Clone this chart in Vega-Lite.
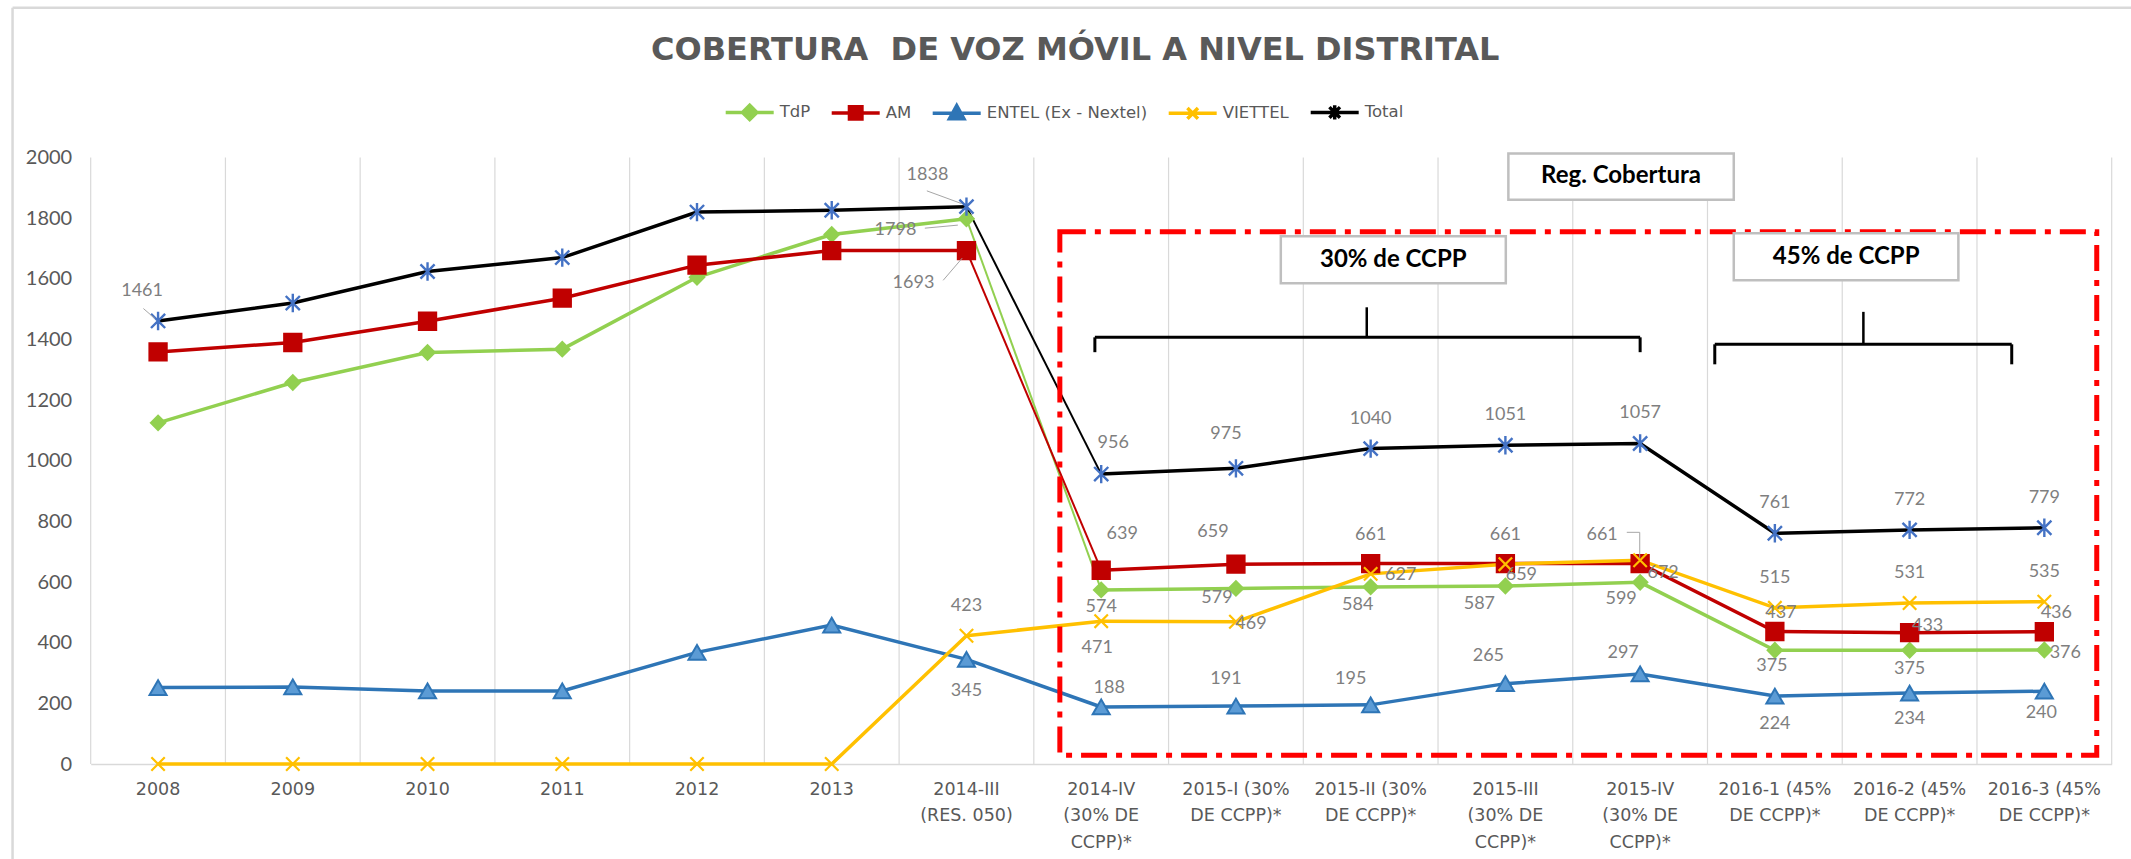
{
  "$schema": "https://vega.github.io/schema/vega-lite/v6.json",
  "autosize": "none",
  "width": 2021,
  "height": 606.5,
  "padding": {"left": 90.7, "top": 157.5, "right": 19.3, "bottom": 95},
  "background": "white",
  "config": {"view": {"stroke": null}},
  "title": {
    "text": "COBERTURA \u00a0DE VOZ MÓVIL A NIVEL DISTRITAL",
    "font": "DejaVu Sans",
    "fontSize": 32,
    "fontWeight": "bold",
    "color": "#595959",
    "anchor": "middle",
    "offset": -61,
    "dx": -26
  },
  "datasets": {
    "cobertura": [
      {"periodo": "2008", "serie": "TdP", "valor": 1125},
      {"periodo": "2009", "serie": "TdP", "valor": 1258},
      {"periodo": "2010", "serie": "TdP", "valor": 1357},
      {"periodo": "2011", "serie": "TdP", "valor": 1368},
      {"periodo": "2012", "serie": "TdP", "valor": 1605},
      {"periodo": "2013", "serie": "TdP", "valor": 1746},
      {"periodo": "2014-III (RES. 050)", "serie": "TdP", "valor": 1798},
      {"periodo": "2014-IV (30% DE CCPP)*", "serie": "TdP", "valor": 574},
      {"periodo": "2015-I (30% DE CCPP)*", "serie": "TdP", "valor": 579},
      {"periodo": "2015-II (30% DE CCPP)*", "serie": "TdP", "valor": 584},
      {"periodo": "2015-III (30% DE CCPP)*", "serie": "TdP", "valor": 587},
      {"periodo": "2015-IV (30% DE CCPP)*", "serie": "TdP", "valor": 599},
      {"periodo": "2016-1 (45% DE CCPP)*", "serie": "TdP", "valor": 375},
      {"periodo": "2016-2 (45% DE CCPP)*", "serie": "TdP", "valor": 375},
      {"periodo": "2016-3 (45% DE CCPP)*", "serie": "TdP", "valor": 376},
      {"periodo": "2008", "serie": "AM", "valor": 1359},
      {"periodo": "2009", "serie": "AM", "valor": 1390},
      {"periodo": "2010", "serie": "AM", "valor": 1460},
      {"periodo": "2011", "serie": "AM", "valor": 1536},
      {"periodo": "2012", "serie": "AM", "valor": 1645},
      {"periodo": "2013", "serie": "AM", "valor": 1693},
      {"periodo": "2014-III (RES. 050)", "serie": "AM", "valor": 1693},
      {"periodo": "2014-IV (30% DE CCPP)*", "serie": "AM", "valor": 639},
      {"periodo": "2015-I (30% DE CCPP)*", "serie": "AM", "valor": 659},
      {"periodo": "2015-II (30% DE CCPP)*", "serie": "AM", "valor": 661},
      {"periodo": "2015-III (30% DE CCPP)*", "serie": "AM", "valor": 661},
      {"periodo": "2015-IV (30% DE CCPP)*", "serie": "AM", "valor": 661},
      {"periodo": "2016-1 (45% DE CCPP)*", "serie": "AM", "valor": 437},
      {"periodo": "2016-2 (45% DE CCPP)*", "serie": "AM", "valor": 433},
      {"periodo": "2016-3 (45% DE CCPP)*", "serie": "AM", "valor": 436},
      {"periodo": "2008", "serie": "ENTEL (Ex - Nextel)", "valor": 252},
      {"periodo": "2009", "serie": "ENTEL (Ex - Nextel)", "valor": 254},
      {"periodo": "2010", "serie": "ENTEL (Ex - Nextel)", "valor": 241},
      {"periodo": "2011", "serie": "ENTEL (Ex - Nextel)", "valor": 241},
      {"periodo": "2012", "serie": "ENTEL (Ex - Nextel)", "valor": 368},
      {"periodo": "2013", "serie": "ENTEL (Ex - Nextel)", "valor": 458},
      {"periodo": "2014-III (RES. 050)", "serie": "ENTEL (Ex - Nextel)", "valor": 345},
      {"periodo": "2014-IV (30% DE CCPP)*", "serie": "ENTEL (Ex - Nextel)", "valor": 188},
      {"periodo": "2015-I (30% DE CCPP)*", "serie": "ENTEL (Ex - Nextel)", "valor": 191},
      {"periodo": "2015-II (30% DE CCPP)*", "serie": "ENTEL (Ex - Nextel)", "valor": 195},
      {"periodo": "2015-III (30% DE CCPP)*", "serie": "ENTEL (Ex - Nextel)", "valor": 265},
      {"periodo": "2015-IV (30% DE CCPP)*", "serie": "ENTEL (Ex - Nextel)", "valor": 297},
      {"periodo": "2016-1 (45% DE CCPP)*", "serie": "ENTEL (Ex - Nextel)", "valor": 224},
      {"periodo": "2016-2 (45% DE CCPP)*", "serie": "ENTEL (Ex - Nextel)", "valor": 234},
      {"periodo": "2016-3 (45% DE CCPP)*", "serie": "ENTEL (Ex - Nextel)", "valor": 240},
      {"periodo": "2008", "serie": "VIETTEL", "valor": 0},
      {"periodo": "2009", "serie": "VIETTEL", "valor": 0},
      {"periodo": "2010", "serie": "VIETTEL", "valor": 0},
      {"periodo": "2011", "serie": "VIETTEL", "valor": 0},
      {"periodo": "2012", "serie": "VIETTEL", "valor": 0},
      {"periodo": "2013", "serie": "VIETTEL", "valor": 0},
      {"periodo": "2014-III (RES. 050)", "serie": "VIETTEL", "valor": 423},
      {"periodo": "2014-IV (30% DE CCPP)*", "serie": "VIETTEL", "valor": 471},
      {"periodo": "2015-I (30% DE CCPP)*", "serie": "VIETTEL", "valor": 469},
      {"periodo": "2015-II (30% DE CCPP)*", "serie": "VIETTEL", "valor": 627},
      {"periodo": "2015-III (30% DE CCPP)*", "serie": "VIETTEL", "valor": 659},
      {"periodo": "2015-IV (30% DE CCPP)*", "serie": "VIETTEL", "valor": 672},
      {"periodo": "2016-1 (45% DE CCPP)*", "serie": "VIETTEL", "valor": 515},
      {"periodo": "2016-2 (45% DE CCPP)*", "serie": "VIETTEL", "valor": 531},
      {"periodo": "2016-3 (45% DE CCPP)*", "serie": "VIETTEL", "valor": 535},
      {"periodo": "2008", "serie": "Total", "valor": 1461},
      {"periodo": "2009", "serie": "Total", "valor": 1520},
      {"periodo": "2010", "serie": "Total", "valor": 1624},
      {"periodo": "2011", "serie": "Total", "valor": 1670},
      {"periodo": "2012", "serie": "Total", "valor": 1820},
      {"periodo": "2013", "serie": "Total", "valor": 1826},
      {"periodo": "2014-III (RES. 050)", "serie": "Total", "valor": 1838},
      {"periodo": "2014-IV (30% DE CCPP)*", "serie": "Total", "valor": 956},
      {"periodo": "2015-I (30% DE CCPP)*", "serie": "Total", "valor": 975},
      {"periodo": "2015-II (30% DE CCPP)*", "serie": "Total", "valor": 1040},
      {"periodo": "2015-III (30% DE CCPP)*", "serie": "Total", "valor": 1051},
      {"periodo": "2015-IV (30% DE CCPP)*", "serie": "Total", "valor": 1057},
      {"periodo": "2016-1 (45% DE CCPP)*", "serie": "Total", "valor": 761},
      {"periodo": "2016-2 (45% DE CCPP)*", "serie": "Total", "valor": 772},
      {"periodo": "2016-3 (45% DE CCPP)*", "serie": "Total", "valor": 779}
    ]
  },
  "layer": [
    {
      "data": {"name": "cobertura"},
      "encoding": {
        "x": {
          "field": "periodo",
          "type": "nominal",
          "bandPosition": 0.5,
          "sort": ["2008", "2009", "2010", "2011", "2012", "2013", "2014-III (RES. 050)", "2014-IV (30% DE CCPP)*", "2015-I (30% DE CCPP)*", "2015-II (30% DE CCPP)*", "2015-III (30% DE CCPP)*", "2015-IV (30% DE CCPP)*", "2016-1 (45% DE CCPP)*", "2016-2 (45% DE CCPP)*", "2016-3 (45% DE CCPP)*"],
          "scale": {"type": "band", "paddingInner": 0, "paddingOuter": 0},
          "axis": {
            "title": null,
            "grid": false,
            "ticks": false,
            "domain": true,
            "domainColor": "#d9d9d9",
            "domainWidth": 1.5,
            "labelAngle": 0,
            "labelFont": "DejaVu Sans",
            "labelFontSize": 17.5,
            "labelColor": "#595959",
            "labelPadding": 16,
            "labelLineHeight": 26.5,
            "labelBaseline": "top",
            "labelLimit": 0,
            "labelOverlap": false,
            "labelExpr": "({'2014-III (RES. 050)':['2014-III','(RES. 050)'],'2014-IV (30% DE CCPP)*':['2014-IV','(30% DE','CCPP)*'],'2015-I (30% DE CCPP)*':['2015-I (30%','DE CCPP)*'],'2015-II (30% DE CCPP)*':['2015-II (30%','DE CCPP)*'],'2015-III (30% DE CCPP)*':['2015-III','(30% DE','CCPP)*'],'2015-IV (30% DE CCPP)*':['2015-IV','(30% DE','CCPP)*'],'2016-1 (45% DE CCPP)*':['2016-1 (45%','DE CCPP)*'],'2016-2 (45% DE CCPP)*':['2016-2 (45%','DE CCPP)*'],'2016-3 (45% DE CCPP)*':['2016-3 (45%','DE CCPP)*']})[datum.value] || datum.value"
          }
        },
        "y": {
          "field": "valor",
          "type": "quantitative",
          "scale": {"domain": [0, 2000], "nice": false},
          "axis": {
            "title": null,
            "values": [0, 200, 400, 600, 800, 1000, 1200, 1400, 1600, 1800, 2000],
            "format": "d",
            "grid": false,
            "ticks": false,
            "domain": false,
            "labelFont": "Lato",
            "labelFontSize": 20,
            "labelColor": "#595959",
            "labelPadding": 19
          }
        },
        "color": {
          "field": "serie",
          "type": "nominal",
          "scale": {
            "domain": ["TdP", "AM", "ENTEL (Ex - Nextel)", "VIETTEL", "Total"],
            "range": ["#92D050", "#C00000", "#2E75B6", "#FFC000", "#000000"]
          },
          "legend": {
            "orient": "none",
            "legendX": 633,
            "legendY": -71.5,
            "direction": "horizontal",
            "title": null,
            "padding": 0,
            "symbolType": "M-1,0L1,0",
            "symbolSize": 2304,
            "symbolStrokeWidth": 3.5,
            "symbolOffset": 0,
            "labelFont": "DejaVu Sans",
            "labelFontSize": 16.5,
            "labelColor": "#595959",
            "labelOffset": 4,
            "labelLimit": 0,
            "columnPadding": 14,
            "encode": {
              "symbols": {
                "update": {
                  "shape": {"signal": "({'TdP':'M-1,0L1,0M0,-0.3L0.3,0L0,0.3L-0.3,0Z','AM':'M-1,0L1,0M-0.26,-0.26L0.26,-0.26L0.26,0.26L-0.26,0.26Z','ENTEL (Ex - Nextel)':'M-1,0L1,0M0,-0.32L0.3,0.22L-0.3,0.22Z','VIETTEL':'M-1,0L1,0M-0.22,-0.22L0.22,0.22M-0.22,0.22L0.22,-0.22','Total':'M-1,0L1,0M-0.22,-0.22L0.22,0.22M-0.22,0.22L0.22,-0.22M0,-0.3L0,0.3'})[datum.value]"},
                  "fill": {"signal": "({'TdP':'#92D050','AM':'#C00000','ENTEL (Ex - Nextel)':'#2E75B6','VIETTEL':'#FFC000','Total':'#4472C4'})[datum.value]"},
                  "size": {"value": 2304}
                }
              }
            }
          }
        }
      },
      "layer": [
        {
          "transform": [{"filter": "datum.serie == 'Total'"}],
          "mark": {"type": "rule", "color": "#d9d9d9", "strokeWidth": 1.2},
          "encoding": {
            "x": {"field": "periodo", "type": "nominal", "bandPosition": 0},
            "y": {"datum": 0, "type": "quantitative", "scale": {"domain": [0, 2000], "nice": false}},
            "y2": {"datum": 2000},
            "color": {"value": "#d9d9d9"}
          }
        },
        {
          "transform": [{"filter": "datum.serie == 'Total' && datum.periodo == '2016-3 (45% DE CCPP)*'"}],
          "mark": {"type": "rule", "color": "#d9d9d9", "strokeWidth": 1.2},
          "encoding": {
            "x": {"field": "periodo", "type": "nominal", "bandPosition": 1},
            "y": {"datum": 0, "type": "quantitative", "scale": {"domain": [0, 2000], "nice": false}},
            "y2": {"datum": 2000},
            "color": {"value": "#d9d9d9"}
          }
        },
        {
          "transform": [{"filter": "indexof(['2008','2009','2010','2011','2012','2013','2014-III (RES. 050)'], datum.periodo) >= 0"}],
          "mark": {"type": "line", "strokeWidth": 3.5}
        },
        {
          "transform": [{"filter": "indexof(['2008','2009','2010','2011','2012','2013','2014-III (RES. 050)'], datum.periodo) < 0"}],
          "mark": {"type": "line", "strokeWidth": 3.5}
        },
        {
          "transform": [{"filter": "(datum.periodo == '2014-III (RES. 050)' || datum.periodo == '2014-IV (30% DE CCPP)*') && (datum.serie == 'ENTEL (Ex - Nextel)' || datum.serie == 'VIETTEL')"}],
          "mark": {"type": "line", "strokeWidth": 3.5}
        },
        {
          "transform": [{"filter": "(datum.periodo == '2014-III (RES. 050)' || datum.periodo == '2014-IV (30% DE CCPP)*') && datum.serie != 'ENTEL (Ex - Nextel)' && datum.serie != 'VIETTEL'"}],
          "mark": {"type": "line", "strokeWidth": 2}
        },
        {
          "transform": [{"filter": "datum.serie == 'TdP'"}],
          "mark": {"type": "point", "shape": "diamond", "filled": true, "fill": "#92D050", "stroke": "#92D050", "strokeWidth": 2, "size": 210, "opacity": 1},
          "encoding": {"color": {"value": "#92D050"}}
        },
        {
          "transform": [{"filter": "datum.serie == 'AM'"}],
          "mark": {"type": "point", "shape": "square", "filled": true, "fill": "#C00000", "stroke": "#C00000", "strokeWidth": 2, "size": 300, "opacity": 1},
          "encoding": {"color": {"value": "#C00000"}}
        },
        {
          "transform": [{"filter": "datum.serie == 'ENTEL (Ex - Nextel)'"}],
          "mark": {"type": "point", "shape": "triangle-up", "filled": true, "fill": "#5B9BD5", "stroke": "#2E75B6", "strokeWidth": 2, "size": 290, "opacity": 1},
          "encoding": {"color": {"value": "#5B9BD5"}}
        },
        {
          "transform": [{"filter": "datum.serie == 'VIETTEL'"}],
          "mark": {"type": "point", "shape": "M-1,-1L1,1M-1,1L1,-1", "filled": false, "stroke": "#FFC000", "strokeWidth": 2.2, "size": 180, "opacity": 1},
          "encoding": {"color": {"value": "#FFC000"}}
        },
        {
          "transform": [{"filter": "datum.serie == 'Total'"}],
          "mark": {"type": "point", "shape": "M-1,-1L1,1M-1,1L1,-1M0,-1.3L0,1.3", "filled": false, "stroke": "#4472C4", "strokeWidth": 2.4, "size": 200, "opacity": 1},
          "encoding": {"color": {"value": "#4472C4"}}
        },
        {
          "transform": [{"filter": "indexof(['2008','2009','2010','2011','2012','2013'], datum.periodo) < 0 || (datum.serie == 'Total' && datum.periodo == '2008')"}],
          "mark": {
            "type": "text",
            "font": "Lato",
            "fontSize": 18,
            "align": "center",
            "baseline": "middle",
            "dx": {"expr": "({'Total2008':-16,'Total2014-III':-39,'Total2014-IV':12,'Total2015-I':-10,'TdP2014-III':-71,'TdP2015-I':-19,'TdP2015-II':-13,'TdP2015-III':-26,'TdP2015-IV':-19,'TdP2016-1':-3,'TdP2016-3':21,'AM2014-III':-53,'AM2014-IV':21,'AM2015-I':-23,'AM2015-IV':-38,'AM2016-1':6,'AM2016-2':18,'AM2016-3':12,'ENTEL2014-IV':8,'ENTEL2015-I':-10,'ENTEL2015-II':-20,'ENTEL2015-III':-17,'ENTEL2015-IV':-17,'ENTEL2016-3':-3,'VIETTEL2014-IV':-4,'VIETTEL2015-I':15,'VIETTEL2015-II':30,'VIETTEL2015-III':16,'VIETTEL2015-IV':23})[split(datum.serie,' ')[0] + split(datum.periodo,' ')[0]] || 0"},
            "dy": {"expr": "({'Total2008':-30,'Total2014-III':-32,'Total2014-IV':-31,'Total2015-I':-34,'TdP2014-III':11,'TdP2014-IV':17,'TdP2015-I':10,'TdP2015-II':18,'TdP2015-III':18,'TdP2015-IV':17,'TdP2016-1':16,'TdP2016-2':19,'TdP2016-3':3,'AM2014-III':32,'AM2014-IV':-36,'AM2015-I':-32,'AM2015-II':-29,'AM2015-III':-29,'AM2015-IV':-29,'AM2016-1':-18,'AM2016-2':-7,'AM2016-3':-19,'ENTEL2014-III':32,'ENTEL2014-IV':-19,'ENTEL2015-I':-27,'ENTEL2015-II':-26,'ENTEL2015-III':-28,'ENTEL2015-IV':-21,'ENTEL2016-1':28,'ENTEL2016-2':26,'ENTEL2016-3':22,'VIETTEL2014-IV':27,'VIETTEL2015-I':2,'VIETTEL2015-II':1,'VIETTEL2015-III':11,'VIETTEL2015-IV':13})[split(datum.serie,' ')[0] + split(datum.periodo,' ')[0]] || -30"}
          },
          "encoding": {
            "text": {"field": "valor", "type": "quantitative", "format": "d"},
            "color": {"value": "#7f7f7f"}
          }
        }
      ]
    },
    {
      "data": {"values": [{}]},
      "layer": [
        {
          "mark": {"type": "rule", "color": "#d9d9d9", "strokeWidth": 2.5},
          "encoding": {
            "x": {"datum": -0.58, "type": "quantitative", "scale": {"domain": [0, 15], "nice": false, "zero": false}, "axis": null},
            "x2": {"datum": 15.2},
            "y": {"datum": 2494, "type": "quantitative", "scale": {"domain": [0, 2000], "nice": false}}
          }
        },
        {
          "mark": {"type": "rule", "color": "#d9d9d9", "strokeWidth": 2.5},
          "encoding": {
            "x": {"datum": -0.58, "type": "quantitative", "scale": {"domain": [0, 15], "nice": false, "zero": false}, "axis": null},
            "y": {"datum": -320, "type": "quantitative", "scale": {"domain": [0, 2000], "nice": false}},
            "y2": {"datum": 2494}
          }
        },
        {
          "mark": {"type": "rule", "color": "#a6a6a6", "strokeWidth": 1},
          "encoding": {
            "x": {"datum": 0.391, "type": "quantitative", "scale": {"domain": [0, 15], "nice": false, "zero": false}, "axis": null},
            "x2": {"datum": 0.477},
            "y": {"datum": 1502, "type": "quantitative", "scale": {"domain": [0, 2000], "nice": false}},
            "y2": {"datum": 1469}
          }
        },
        {
          "mark": {"type": "rule", "color": "#a6a6a6", "strokeWidth": 1},
          "encoding": {
            "x": {"datum": 6.206, "type": "quantitative", "scale": {"domain": [0, 15], "nice": false, "zero": false}, "axis": null},
            "x2": {"datum": 6.464},
            "y": {"datum": 1890, "type": "quantitative", "scale": {"domain": [0, 2000], "nice": false}},
            "y2": {"datum": 1848}
          }
        },
        {
          "mark": {"type": "rule", "color": "#a6a6a6", "strokeWidth": 1},
          "encoding": {
            "x": {"datum": 6.191, "type": "quantitative", "scale": {"domain": [0, 15], "nice": false, "zero": false}, "axis": null},
            "x2": {"datum": 6.436},
            "y": {"datum": 1767, "type": "quantitative", "scale": {"domain": [0, 2000], "nice": false}},
            "y2": {"datum": 1777}
          }
        },
        {
          "mark": {"type": "rule", "color": "#a6a6a6", "strokeWidth": 1},
          "encoding": {
            "x": {"datum": 6.327, "type": "quantitative", "scale": {"domain": [0, 15], "nice": false, "zero": false}, "axis": null},
            "x2": {"datum": 6.468},
            "y": {"datum": 1595, "type": "quantitative", "scale": {"domain": [0, 2000], "nice": false}},
            "y2": {"datum": 1668}
          }
        },
        {
          "mark": {"type": "rule", "color": "#a6a6a6", "strokeWidth": 1},
          "encoding": {
            "x": {"datum": 11.401, "type": "quantitative", "scale": {"domain": [0, 15], "nice": false, "zero": false}, "axis": null},
            "x2": {"datum": 11.497},
            "y": {"datum": 764, "type": "quantitative", "scale": {"domain": [0, 2000], "nice": false}}
          }
        },
        {
          "mark": {"type": "rule", "color": "#a6a6a6", "strokeWidth": 1},
          "encoding": {
            "x": {"datum": 11.497, "type": "quantitative", "scale": {"domain": [0, 15], "nice": false, "zero": false}, "axis": null},
            "y": {"datum": 764, "type": "quantitative", "scale": {"domain": [0, 2000], "nice": false}},
            "y2": {"datum": 680}
          }
        },
        {
          "mark": {"type": "rect", "fillOpacity": 0, "stroke": "#FF0000", "strokeWidth": 5, "strokeDash": [26, 9, 6, 9]},
          "encoding": {
            "x": {"datum": 7.193, "type": "quantitative", "scale": {"domain": [0, 15], "nice": false, "zero": false}, "axis": null},
            "x2": {"datum": 14.889},
            "y": {"datum": 29, "type": "quantitative", "scale": {"domain": [0, 2000], "nice": false}},
            "y2": {"datum": 1755}
          }
        },
        {
          "mark": {"type": "rect", "fill": "white", "stroke": "#bfbfbf", "strokeWidth": 2.5},
          "encoding": {
            "x": {"datum": 10.522, "type": "quantitative", "scale": {"domain": [0, 15], "nice": false, "zero": false}, "axis": null},
            "x2": {"datum": 12.195},
            "y": {"datum": 1861, "type": "quantitative", "scale": {"domain": [0, 2000], "nice": false}},
            "y2": {"datum": 2013}
          }
        },
        {
          "mark": {"type": "rect", "fill": "white", "stroke": "#bfbfbf", "strokeWidth": 2.5},
          "encoding": {
            "x": {"datum": 8.833, "type": "quantitative", "scale": {"domain": [0, 15], "nice": false, "zero": false}, "axis": null},
            "x2": {"datum": 10.503},
            "y": {"datum": 1585, "type": "quantitative", "scale": {"domain": [0, 2000], "nice": false}},
            "y2": {"datum": 1740}
          }
        },
        {
          "mark": {"type": "rect", "fill": "white", "stroke": "#bfbfbf", "strokeWidth": 2.5},
          "encoding": {
            "x": {"datum": 12.195, "type": "quantitative", "scale": {"domain": [0, 15], "nice": false, "zero": false}, "axis": null},
            "x2": {"datum": 13.862},
            "y": {"datum": 1595, "type": "quantitative", "scale": {"domain": [0, 2000], "nice": false}},
            "y2": {"datum": 1750}
          }
        },
        {
          "mark": {"type": "text", "text": "Reg. Cobertura", "font": "Lato", "fontSize": 24, "fontWeight": "bold", "color": "#000000", "align": "center", "baseline": "middle"},
          "encoding": {
            "x": {"datum": 11.358, "type": "quantitative", "scale": {"domain": [0, 15], "nice": false, "zero": false}, "axis": null},
            "y": {"datum": 1938, "type": "quantitative", "scale": {"domain": [0, 2000], "nice": false}}
          }
        },
        {
          "mark": {"type": "text", "text": "30% de CCPP", "font": "Lato", "fontSize": 24, "fontWeight": "bold", "color": "#000000", "align": "center", "baseline": "middle"},
          "encoding": {
            "x": {"datum": 9.668, "type": "quantitative", "scale": {"domain": [0, 15], "nice": false, "zero": false}, "axis": null},
            "y": {"datum": 1663, "type": "quantitative", "scale": {"domain": [0, 2000], "nice": false}}
          }
        },
        {
          "mark": {"type": "text", "text": "45% de CCPP", "font": "Lato", "fontSize": 24, "fontWeight": "bold", "color": "#000000", "align": "center", "baseline": "middle"},
          "encoding": {
            "x": {"datum": 13.029, "type": "quantitative", "scale": {"domain": [0, 15], "nice": false, "zero": false}, "axis": null},
            "y": {"datum": 1673, "type": "quantitative", "scale": {"domain": [0, 2000], "nice": false}}
          }
        },
        {
          "mark": {"type": "rule", "color": "#000000", "strokeWidth": 3},
          "encoding": {
            "x": {"datum": 7.453, "type": "quantitative", "scale": {"domain": [0, 15], "nice": false, "zero": false}, "axis": null},
            "x2": {"datum": 11.5},
            "y": {"datum": 1407, "type": "quantitative", "scale": {"domain": [0, 2000], "nice": false}}
          }
        },
        {
          "mark": {"type": "rule", "color": "#000000", "strokeWidth": 3},
          "encoding": {
            "x": {"datum": 7.453, "type": "quantitative", "scale": {"domain": [0, 15], "nice": false, "zero": false}, "axis": null},
            "y": {"datum": 1358, "type": "quantitative", "scale": {"domain": [0, 2000], "nice": false}},
            "y2": {"datum": 1407}
          }
        },
        {
          "mark": {"type": "rule", "color": "#000000", "strokeWidth": 3},
          "encoding": {
            "x": {"datum": 11.5, "type": "quantitative", "scale": {"domain": [0, 15], "nice": false, "zero": false}, "axis": null},
            "y": {"datum": 1358, "type": "quantitative", "scale": {"domain": [0, 2000], "nice": false}},
            "y2": {"datum": 1407}
          }
        },
        {
          "mark": {"type": "rule", "color": "#000000", "strokeWidth": 2.5},
          "encoding": {
            "x": {"datum": 9.471, "type": "quantitative", "scale": {"domain": [0, 15], "nice": false, "zero": false}, "axis": null},
            "y": {"datum": 1407, "type": "quantitative", "scale": {"domain": [0, 2000], "nice": false}},
            "y2": {"datum": 1506}
          }
        },
        {
          "mark": {"type": "rule", "color": "#000000", "strokeWidth": 3},
          "encoding": {
            "x": {"datum": 12.054, "type": "quantitative", "scale": {"domain": [0, 15], "nice": false, "zero": false}, "axis": null},
            "x2": {"datum": 14.258},
            "y": {"datum": 1384, "type": "quantitative", "scale": {"domain": [0, 2000], "nice": false}}
          }
        },
        {
          "mark": {"type": "rule", "color": "#000000", "strokeWidth": 3},
          "encoding": {
            "x": {"datum": 12.054, "type": "quantitative", "scale": {"domain": [0, 15], "nice": false, "zero": false}, "axis": null},
            "y": {"datum": 1318, "type": "quantitative", "scale": {"domain": [0, 2000], "nice": false}},
            "y2": {"datum": 1384}
          }
        },
        {
          "mark": {"type": "rule", "color": "#000000", "strokeWidth": 3},
          "encoding": {
            "x": {"datum": 14.258, "type": "quantitative", "scale": {"domain": [0, 15], "nice": false, "zero": false}, "axis": null},
            "y": {"datum": 1318, "type": "quantitative", "scale": {"domain": [0, 2000], "nice": false}},
            "y2": {"datum": 1384}
          }
        },
        {
          "mark": {"type": "rule", "color": "#000000", "strokeWidth": 2.5},
          "encoding": {
            "x": {"datum": 13.157, "type": "quantitative", "scale": {"domain": [0, 15], "nice": false, "zero": false}, "axis": null},
            "y": {"datum": 1384, "type": "quantitative", "scale": {"domain": [0, 2000], "nice": false}},
            "y2": {"datum": 1491}
          }
        }
      ]
    }
  ],
  "resolve": {"scale": {"x": "independent"}}
}
